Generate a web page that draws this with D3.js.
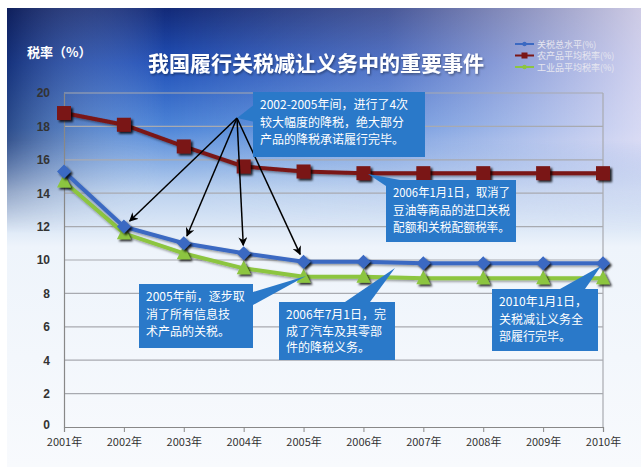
<!DOCTYPE html>
<html><head><meta charset="utf-8">
<script src="https://cdn.jsdelivr.net/npm/d3@7"></script>
<style>html,body{margin:0;padding:0;background:#fff;}svg{display:block;}</style>
</head><body>
<svg id="chart" width="641" height="467"></svg>
<script>
const years = ["2001年","2002年","2003年","2004年","2005年","2006年","2007年","2008年","2009年","2010年"];
const overall = [15.3, 12.0, 11.0, 10.4, 9.9, 9.9, 9.8, 9.8, 9.8, 9.8];
const agri = [18.8, 18.1, 16.8, 15.6, 15.3, 15.2, 15.2, 15.2, 15.2, 15.2];
const indus = [14.7, 11.6, 10.4, 9.5, 9.0, 9.0, 8.9, 8.9, 8.9, 8.9];
const yTicks = [0,2,4,6,8,10,12,14,16,18,20];
const seriesNames = ["关税总水平(%)","农产品平均税率(%)","工业品平均税率(%)"];
const title = "我国履行关税减让义务中的重要事件";
const yTitle = "税率（%）";
const notes = [
  ["2002-2005年间，进行了4次","较大幅度的降税，绝大部分","产品的降税承诺履行完毕。"],
  ["2006年1月1日，取消了","豆油等商品的进口关税","配额和关税配额税率。"],
  ["2005年前，逐步取","消了所有信息技","术产品的关税。"],
  ["2006年7月1日，完","成了汽车及其零部","件的降税义务。"],
  ["2010年1月1日，","关税减让义务全","部履行完毕。"]
];

const svg = d3.select("#chart");
const defs = svg.append("defs");
const g1 = defs.append("linearGradient").attr("id","bgV").attr("x1",0).attr("y1",0).attr("x2",0).attr("y2",1);
[[0,"#132a78"],[0.12,"#2150b8"],[0.26,"#4d85d8"],[0.4,"#bcd2ef"],[0.52,"#eef4fb"],[1,"#f8fafd"]].forEach(s=>g1.append("stop").attr("offset",s[0]).attr("stop-color",s[1]));
const g2 = defs.append("linearGradient").attr("id","bgH").attr("x1",0).attr("y1",0).attr("x2",1).attr("y2",0);
[[0,"#0a1440",0.5],[0.25,"#ffffff",0],[0.6,"#e8e0f5",0.25],[1,"#efe8f8",0.85]].forEach(s=>g2.append("stop").attr("offset",s[0]).attr("stop-color",s[1]).attr("stop-opacity",s[2]));
const mask = defs.append("linearGradient").attr("id","mk").attr("x1",0).attr("y1",0).attr("x2",0).attr("y2",1);
[[0,"#fff"],[0.3,"#fff"],[0.5,"#000"]].forEach(s=>mask.append("stop").attr("offset",s[0]).attr("stop-color",s[1]));
defs.append("mask").attr("id","m1").append("rect").attr("x",0).attr("y",0).attr("width",641).attr("height",467).attr("fill","url(#mk)");
const f = defs.append("filter").attr("id","sh").attr("x","-50%").attr("y","-50%").attr("width","200%").attr("height","200%");
f.append("feDropShadow").attr("dx",2).attr("dy",2).attr("stdDeviation",0.8).attr("flood-color","#000").attr("flood-opacity",0.85);
const fl = defs.append("filter").attr("id","shl").attr("x","-10%").attr("y","-10%").attr("width","120%").attr("height","120%");
fl.append("feDropShadow").attr("dx",1).attr("dy",1.5).attr("stdDeviation",0.8).attr("flood-color","#000").attr("flood-opacity",0.4);
defs.append("marker").attr("id","arr").attr("viewBox","0 0 10 10").attr("refX",9).attr("refY",5)
  .attr("markerWidth",9).attr("markerHeight",9).attr("markerUnits","userSpaceOnUse").attr("orient","auto")
  .append("path").attr("d","M0,0L10,5L0,10L3,5Z").attr("fill","#000");

svg.append("rect").attr("x",7).attr("y",8).attr("width",634).attr("height",459).attr("fill","url(#bgV)");
svg.append("rect").attr("x",7).attr("y",8).attr("width",634).attr("height",459).attr("fill","url(#bgH)").attr("mask","url(#m1)");

const x = d3.scalePoint().domain(years).range([64,603]);
const y = d3.scaleLinear().domain([0,20]).range([427,93]);

// gridlines
svg.append("g").selectAll("line").data(yTicks.filter(d=>d>0)).join("line")
  .attr("x1",64).attr("x2",603).attr("y1",d=>y(d)).attr("y2",d=>y(d))
  .attr("stroke","#a8aab0").attr("stroke-width",1.2);
svg.append("line").attr("x1",603).attr("x2",603).attr("y1",y(20)).attr("y2",y(0)).attr("stroke","#a8aab0").attr("stroke-width",1.2);

// axes
const yAxis = svg.append("g").attr("transform","translate(64,0)")
  .call(d3.axisLeft(y).tickValues(yTicks).tickSize(0).tickPadding(14));
yAxis.select(".domain").attr("stroke","#888").attr("stroke-width",1.2);
yAxis.selectAll("text").attr("font-family","Liberation Sans, Arial, sans-serif").attr("font-weight","bold")
  .attr("font-size",12).attr("fill","#333");
yAxis.selectAll(".tick").filter(d=>d===0).select("text").attr("dy","0.1em");
const xAxis = svg.append("g").attr("transform","translate(0,427)")
  .call(d3.axisBottom(x).tickSize(5).tickPadding(2));
xAxis.select(".domain").attr("stroke","#888").attr("stroke-width",1.2);
xAxis.selectAll(".tick line").attr("stroke","#888");
xAxis.selectAll("text").attr("font-family","Noto Sans CJK SC, sans-serif").attr("font-size",11).attr("fill","#333").attr("dy","1.05em");

// series
const colors = ["#3b69c2","#7a1616","#8cc540"];
const data = [overall, agri, indus];
const line = d3.line().x((d,i)=>x(years[i])).y(d=>y(d));
[1,2,0].forEach(k=>{
  svg.append("path").datum(data[k]).attr("d",line).attr("fill","none")
    .attr("stroke",colors[k]).attr("stroke-width",4).attr("filter","url(#shl)");
});
// markers
svg.append("g").selectAll("rect").data(agri).join("rect")
  .attr("x",(d,i)=>x(years[i])-7).attr("y",d=>y(d)-7).attr("width",14).attr("height",14)
  .attr("fill",colors[1]).attr("filter","url(#sh)");
svg.append("g").selectAll("path").data(indus).join("path")
  .attr("d",(d,i)=>{const cx=x(years[i]),cy=y(d);return `M${cx},${cy-8}L${cx+7},${cy+6}L${cx-7},${cy+6}Z`;})
  .attr("fill",colors[2]).attr("filter","url(#sh)");
svg.append("g").selectAll("path").data(overall).join("path")
  .attr("d",(d,i)=>{const cx=x(years[i]),cy=y(d);return `M${cx},${cy-7}L${cx+7},${cy}L${cx},${cy+7}L${cx-7},${cy}Z`;})
  .attr("fill",colors[0]).attr("filter","url(#sh)");

// arrows from callout 1 to blue points 2002-2005
const src = [237,118];
[1,2,3,4].forEach(i=>{
  const tx = x(years[i]), ty = y(overall[i]);
  const dx = tx-src[0], dy = ty-src[1], L = Math.hypot(dx,dy);
  svg.append("line").attr("x1",src[0]).attr("y1",src[1]).attr("x2",tx-dx/L*8).attr("y2",ty-dy/L*8)
    .attr("stroke","#000").attr("stroke-width",1.5).attr("marker-end","url(#arr)");
});

// callouts
const boxFill = "#2a79c9";
function callout(lines, bx, by, bw, bh, tail, fs, lh){
  const gg = svg.append("g");
  gg.append("path").attr("d",`M${tail[0]},${tail[1]}L${tail[2]},${tail[3]}L${tail[4]},${tail[5]}Z`).attr("fill",boxFill);
  gg.append("rect").attr("x",bx).attr("y",by).attr("width",bw).attr("height",bh).attr("fill",boxFill);
  lines.forEach((t,i)=>{
    const tx = gg.append("text").attr("x",bx+7).attr("y",by+17+i*lh).text(t)
      .attr("font-family","Noto Sans CJK SC, sans-serif").attr("font-size",fs).attr("fill","#fff");
    const w = tx.node().getComputedTextLength();
    const maxW = bw-13;
    if(w>maxW) tx.attr("textLength",maxW).attr("lengthAdjust","spacingAndGlyphs");
  });
}
callout(notes[0],253,92,172,65,[255,104,237,118,255,122],12,17.5);
callout(notes[1],386,180,130,62,[386,186,368,174,400,180],12,17.5);
callout(notes[2],139,284,114,64,[253,292,306,276,253,305],12,17.5);
callout(notes[3],279,302,116,58,[345,302,395,268,370,302],12,16.5);
callout(notes[4],492,289,106,62,[560,289,601,266,585,289],12,17.5);

// title
svg.append("text").attr("x",316).attr("y",71).attr("text-anchor","middle").text(title)
  .attr("font-family","Noto Sans CJK SC, sans-serif").attr("font-weight","bold").attr("font-size",21)
  .attr("fill","#fff").attr("filter","url(#shl)");
svg.append("text").attr("x",27).attr("y",57).text(yTitle)
  .attr("font-family","Noto Sans CJK SC, sans-serif").attr("font-weight","bold").attr("font-size",13).attr("fill","#fff");

// legend
const lg = svg.append("g");
seriesNames.forEach((n,i)=>{
  const ly = 44 + i*11.5;
  lg.append("line").attr("x1",515).attr("x2",534).attr("y1",ly).attr("y2",ly).attr("stroke",colors[i]).attr("stroke-width",2);
  if(i===1) lg.append("rect").attr("x",521.5).attr("y",ly-3).attr("width",6).attr("height",6).attr("fill",colors[i]);
  else lg.append("circle").attr("cx",524.5).attr("cy",ly).attr("r",2.2).attr("fill",colors[i]);
  lg.append("text").attr("x",537).attr("y",ly+3.5).text(n)
    .attr("font-family","Noto Sans CJK SC, sans-serif").attr("font-size",9).attr("fill","#e6e6f0");
});
</script>
</body></html>
